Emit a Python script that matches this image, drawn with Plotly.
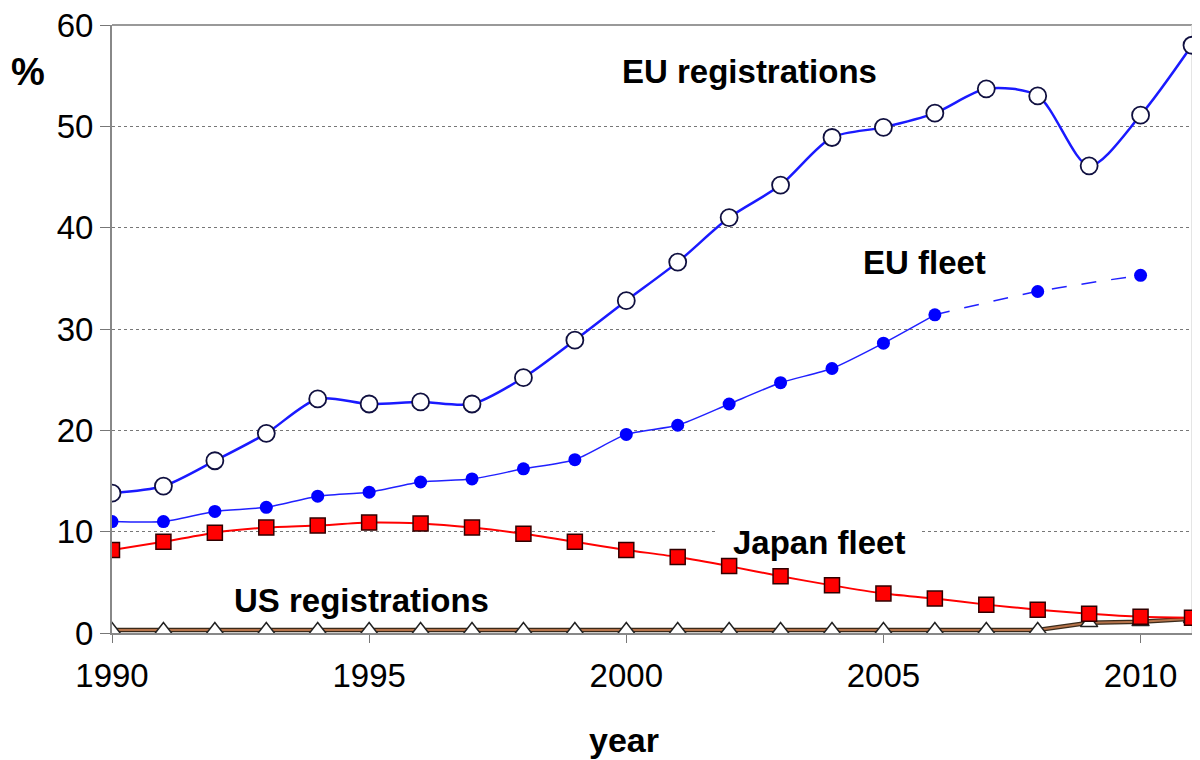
import plotly.graph_objects as go

years = list(range(1990, 2012))

eu_registrations = [13.8, 14.5, 17.0, 19.7, 23.1, 22.6, 22.8, 22.6, 25.2, 28.9, 32.8,
                    36.6, 41.0, 44.2, 48.9, 49.9, 51.3, 53.7, 53.0, 46.1, 51.1, 58.0]

eu_fleet_years_solid = list(range(1990, 2007))
eu_fleet_solid = [11.0, 11.0, 12.0, 12.4, 13.5, 13.9, 14.9, 15.2, 16.2, 17.1, 19.6,
                  20.5, 22.6, 24.7, 26.1, 28.6, 31.4]
eu_fleet_years_late = [2006, 2008, 2010]
eu_fleet_late = [31.4, 33.7, 35.3]

japan_fleet = [8.2, 9.0, 9.9, 10.4, 10.6, 10.9, 10.8, 10.4, 9.8, 9.0, 8.2,
               7.5, 6.6, 5.6, 4.7, 3.9, 3.4, 2.8, 2.3, 1.9, 1.6, 1.5]

us_registrations = [0.3] * 19 + [1.0, 1.1, 1.4]

y_ticks = [0, 10, 20, 30, 40, 50, 60]
x_ticks = [1990, 1995, 2000, 2005, 2010]

FONT = "Liberation Sans, Arial, sans-serif"

fig = go.Figure()

# US registrations: dark underline + brown line
fig.add_trace(go.Scatter(x=years, y=us_registrations, mode="lines",
                         line=dict(color="#3a2a1a", width=4.5), hoverinfo="skip",
                         showlegend=False))
fig.add_trace(go.Scatter(x=years, y=us_registrations, mode="lines+markers",
                         line=dict(color="#b5734a", width=2),
                         marker=dict(symbol="triangle-up", size=15, color="white",
                                     line=dict(color="#222222", width=1.5)),
                         name="US registrations", showlegend=False))

# Japan fleet
fig.add_trace(go.Scatter(x=years, y=japan_fleet, mode="lines+markers",
                         line=dict(color="#ff0000", width=2, shape="spline", smoothing=0.6),
                         marker=dict(symbol="square", size=15, color="#ff0000",
                                     line=dict(color="#300000", width=1.5)),
                         name="Japan fleet", showlegend=False))

# EU fleet
fig.add_trace(go.Scatter(x=eu_fleet_years_late, y=eu_fleet_late, mode="lines",
                         line=dict(color="#2020ff", width=1.5, shape="spline",
                                   smoothing=0.8, dash="longdash"),
                         showlegend=False, hoverinfo="skip"))
fig.add_trace(go.Scatter(x=eu_fleet_years_late[1:], y=eu_fleet_late[1:], mode="markers",
                         marker=dict(symbol="circle", size=13, color="#0000ff"),
                         showlegend=False))
fig.add_trace(go.Scatter(x=eu_fleet_years_solid, y=eu_fleet_solid, mode="lines+markers",
                         line=dict(color="#2020ff", width=1.5, shape="spline", smoothing=0.6),
                         marker=dict(symbol="circle", size=13, color="#0000ff"),
                         name="EU fleet", showlegend=False))

# EU registrations
fig.add_trace(go.Scatter(x=years, y=eu_registrations, mode="lines+markers",
                         line=dict(color="#1a1aff", width=2.5, shape="spline", smoothing=0.8),
                         marker=dict(symbol="circle", size=17, color="white",
                                     line=dict(color="#101040", width=1.8)),
                         name="EU registrations", showlegend=False))

annot_font = dict(family=FONT, size=33, color="black")
jp_x, jp_y = 2003.75, 8.9
fig.add_annotation(x=2002.4, y=55.4, text="<b>EU registrations</b>", showarrow=False,
                   xanchor="center", yanchor="middle", font=annot_font)
fig.add_annotation(x=2005.8, y=36.6, text="<b>EU fleet</b>", showarrow=False,
                   xanchor="center", yanchor="middle", font=annot_font)
fig.add_annotation(x=jp_x, y=jp_y, text="<b>Japan fleet</b>", showarrow=False,
                   xanchor="center", yanchor="middle", font=annot_font)
fig.add_annotation(x=1994.86, y=3.2, text="<b>US registrations</b>", showarrow=False,
                   xanchor="center", yanchor="middle", font=annot_font)

# white box hiding the gridline behind the "Japan fleet" label
fig.add_shape(type="rect", x0=jp_x - 2.0, x1=jp_x + 2.0, y0=9.4, y1=10.6,
              fillcolor="white", line=dict(width=0), layer="between")

fig.add_annotation(x=-0.078, y=0.923, xref="paper", yref="paper", xanchor="center",
                   yanchor="middle", text="<b>%</b>", showarrow=False,
                   font=dict(family=FONT, size=38, color="black"))
fig.add_annotation(x=0.474, y=-0.176, xref="paper", yref="paper", xanchor="center",
                   yanchor="middle", text="<b>year</b>", showarrow=False,
                   font=dict(family=FONT, size=34, color="black"))

# the page is shown with an 8px body margin, so the figure is 8px smaller
fig.update_layout(
    width=1192, height=752,
    margin=dict(l=104, r=8, t=17, b=127, autoexpand=False),
    paper_bgcolor="white", plot_bgcolor="white",
    font=dict(family=FONT, size=33, color="black"),
    showlegend=False,
    xaxis=dict(range=[1990, 2011], tickvals=x_ticks, ticks="outside", ticklen=8,
               tickcolor="#777777", showgrid=False, showline=True, linecolor="#888888",
               linewidth=2, mirror=False, zeroline=False, tickfont=dict(size=33),
               ticklabelstandoff=4, automargin=False, ticklabeloverflow="allow"),
    yaxis=dict(range=[0, 60], tickvals=y_ticks, ticks="outside", ticklen=10,
               tickcolor="#777777", showgrid=True, gridcolor="#777777", griddash="dot",
               gridwidth=1.2, showline=True, linecolor="#888888", linewidth=2,
               zeroline=False, tickfont=dict(size=33), automargin=False,
               ticklabeloverflow="allow"),
)

# top border and right border
fig.add_shape(type="line", xref="paper", yref="paper", x0=0, x1=1, y0=1, y1=1,
              line=dict(color="#999999", width=2), layer="below")
fig.add_shape(type="line", xref="paper", yref="paper", x0=1, x1=1, y0=0, y1=1,
              line=dict(color="#dddddd", width=1.5), layer="below")

fig.write_html("out.html")
